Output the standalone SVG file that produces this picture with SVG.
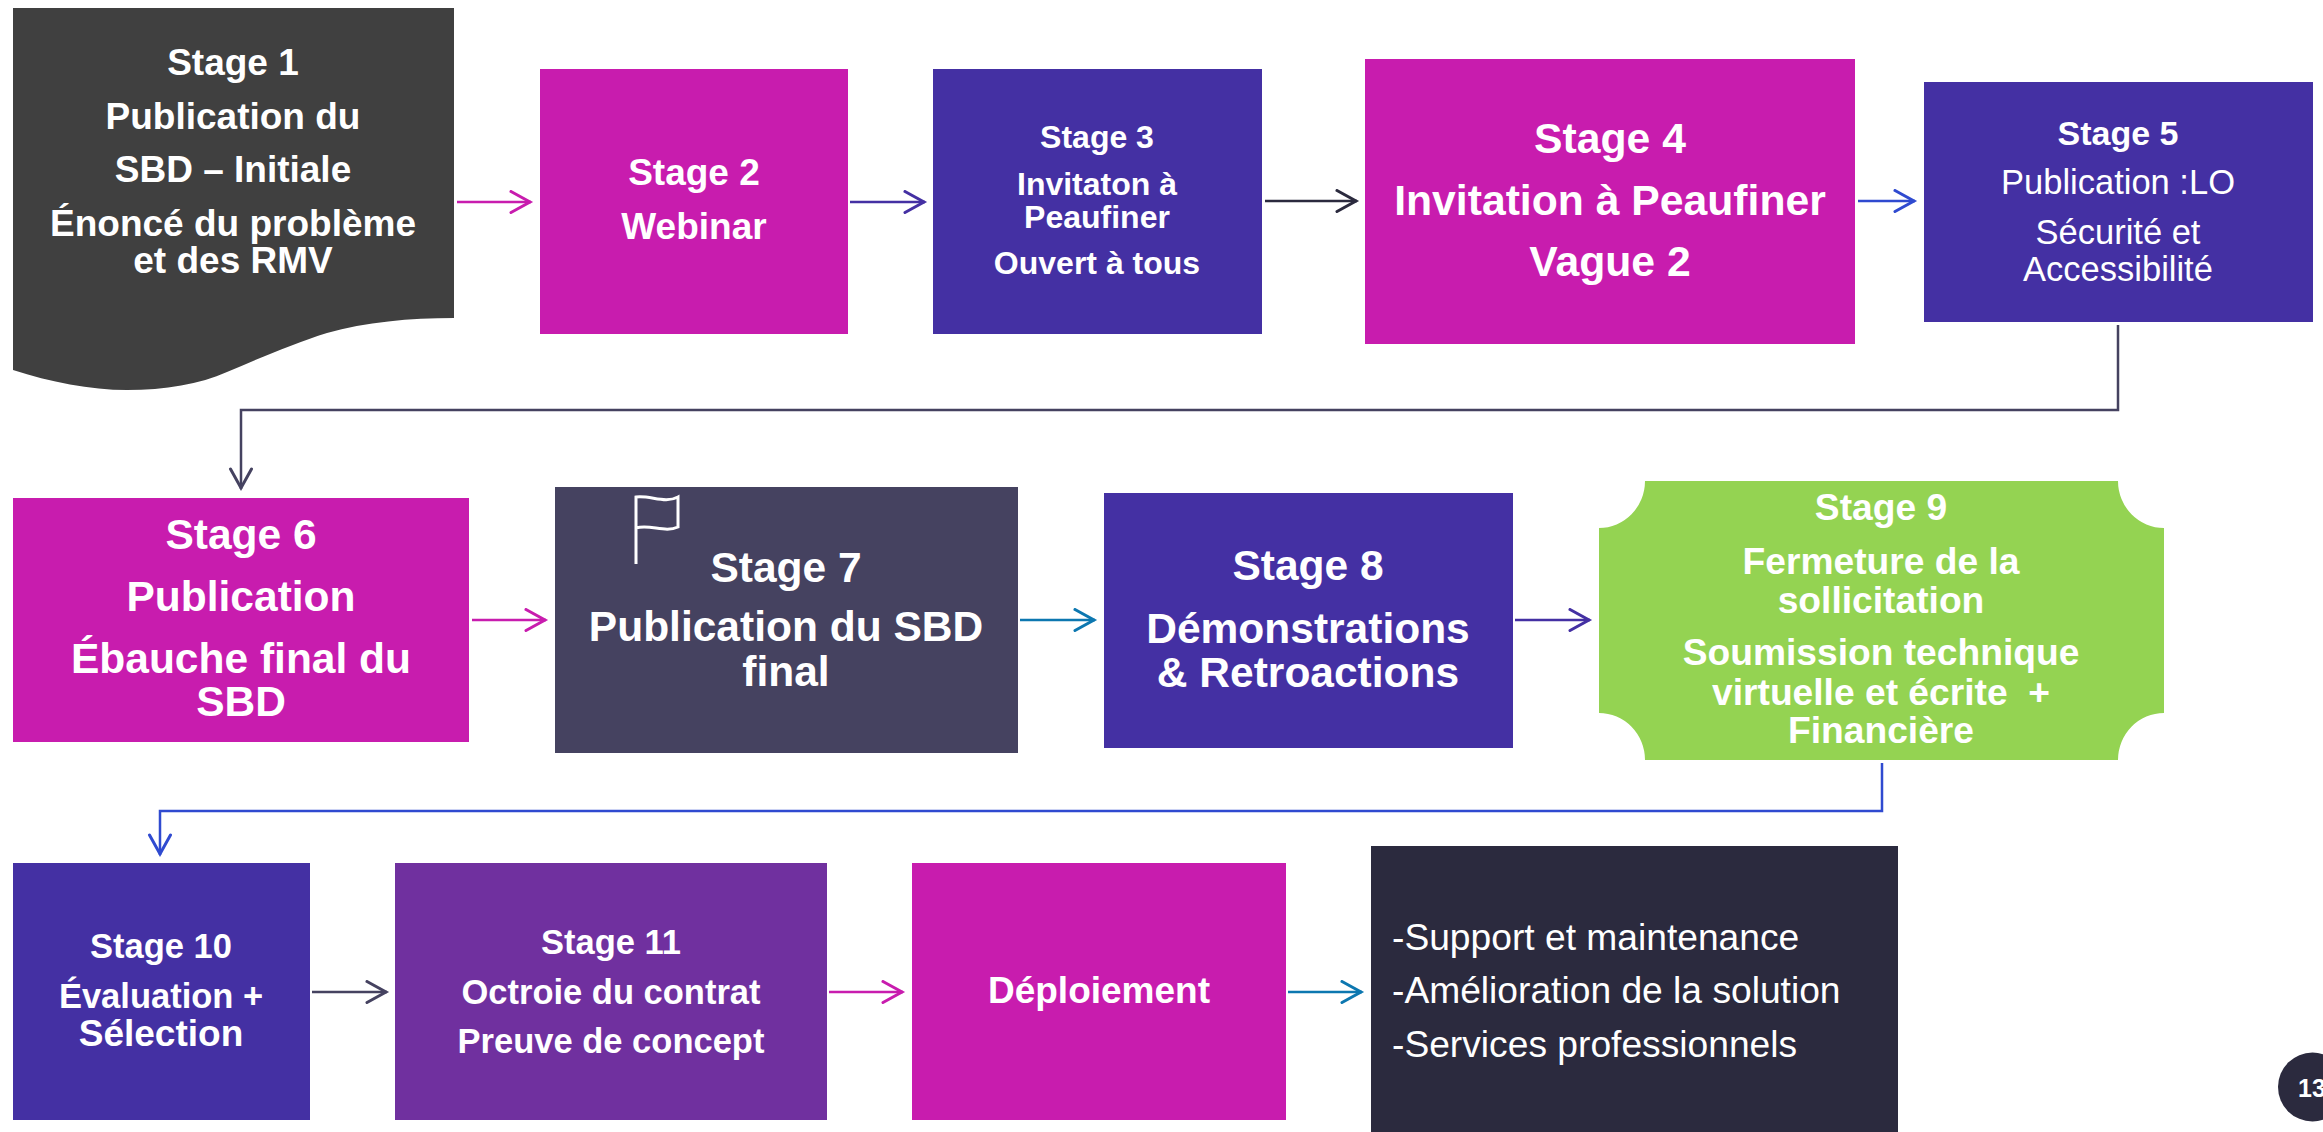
<svg xmlns="http://www.w3.org/2000/svg" width="2323" height="1132" viewBox="0 0 2323 1132">
<style>
text{font-family:"Liberation Sans",Arial,sans-serif;fill:#fff;text-anchor:middle}
.b{font-weight:700}
.l{text-anchor:start}
.c{fill:none;stroke-width:2.5}
.m{fill:#C81CAE}.p{fill:#4430A3}
.hd{fill:none;stroke-width:3;stroke-linecap:round;stroke-linejoin:miter}
</style>
<defs>
<marker id="aM" markerUnits="userSpaceOnUse" markerWidth="30" markerHeight="30" refX="24" refY="12" orient="auto"><path class="hd" stroke="#C81CAE" d="M4,1.500L23,12L4,22.500"/></marker>
<marker id="aP" markerUnits="userSpaceOnUse" markerWidth="30" markerHeight="30" refX="24" refY="12" orient="auto"><path class="hd" stroke="#4430A3" d="M4,1.500L23,12L4,22.500"/></marker>
<marker id="aD" markerUnits="userSpaceOnUse" markerWidth="30" markerHeight="30" refX="24" refY="12" orient="auto"><path class="hd" stroke="#2B2A3E" d="M4,1.500L23,12L4,22.500"/></marker>
<marker id="aB" markerUnits="userSpaceOnUse" markerWidth="30" markerHeight="30" refX="24" refY="12" orient="auto"><path class="hd" stroke="#2F4AD0" d="M4,1.500L23,12L4,22.500"/></marker>
<marker id="aT" markerUnits="userSpaceOnUse" markerWidth="30" markerHeight="30" refX="24" refY="12" orient="auto"><path class="hd" stroke="#0C77B0" d="M4,1.500L23,12L4,22.500"/></marker>
<marker id="aS" markerUnits="userSpaceOnUse" markerWidth="30" markerHeight="30" refX="24" refY="12" orient="auto"><path class="hd" stroke="#454260" d="M4,1.500L23,12L4,22.500"/></marker>
</defs>
<rect width="2323" height="1132" fill="#fff"/>
<g id="connectors">
<path class="c" stroke="#C81CAE" marker-end="url(#aM)" d="M457,202H531"/>
<path class="c" stroke="#4430A3" marker-end="url(#aP)" d="M850,202H925"/>
<path class="c" stroke="#2B2A3E" marker-end="url(#aD)" d="M1265,201H1357"/>
<path class="c" stroke="#2F4AD0" marker-end="url(#aB)" d="M1858,201H1915"/>
<path class="c" stroke="#454260" marker-end="url(#aS)" d="M2118,325V410H241V489"/>
<path class="c" stroke="#C81CAE" marker-end="url(#aM)" d="M472,620H546"/>
<path class="c" stroke="#0C77B0" marker-end="url(#aT)" d="M1020,620H1095"/>
<path class="c" stroke="#4430A3" marker-end="url(#aP)" d="M1515,620H1590"/>
<path class="c" stroke="#2F4AD0" marker-end="url(#aB)" d="M1882,763V811H160V855"/>
<path class="c" stroke="#454260" marker-end="url(#aS)" d="M312,992H387"/>
<path class="c" stroke="#C81CAE" marker-end="url(#aM)" d="M829,992H903"/>
<path class="c" stroke="#0C77B0" marker-end="url(#aT)" d="M1288,992H1362"/>
</g>
<g id="stage1">
<path fill="#404040" d="M13,8H454V318C410,318 365,322 327,333C295,343 260,358 227,372C200,384 165,390 127,390C90,390 50,382 13,370Z"/>
<g class="b" font-size="37">
<text x="233" y="75">Stage 1</text><text x="233" y="129">Publication du</text><text x="233" y="182">SBD – Initiale</text><text x="233" y="236">Énoncé du problème</text><text x="233" y="273">et des RMV</text>
</g></g>
<g id="stage2"><rect class="m" x="540" y="69" width="308" height="265"/>
<g class="b" font-size="37"><text x="694" y="185">Stage 2</text><text x="694" y="239">Webinar</text></g></g>
<g id="stage3"><rect class="p" x="933" y="69" width="329" height="265"/>
<g class="b" font-size="32"><text x="1097" y="148">Stage 3</text><text x="1097" y="195">Invitaton à</text><text x="1097" y="228">Peaufiner</text><text x="1097" y="274">Ouvert à tous</text></g></g>
<g id="stage4"><rect class="m" x="1365" y="59" width="490" height="285"/>
<g class="b" font-size="42.700"><text x="1610" y="153">Stage 4</text><text x="1610" y="215">Invitation à Peaufiner</text><text x="1610" y="276">Vague 2</text></g></g>
<g id="stage5"><rect class="p" x="1924" y="82" width="389" height="240"/>
<text class="b" x="2118" y="145" font-size="34">Stage 5</text>
<g font-size="34.500"><text x="2118" y="194">Publication :LO</text><text x="2118" y="244">Sécurité et</text><text x="2118" y="281">Accessibilité</text></g></g>
<g id="stage6"><rect class="m" x="13" y="498" width="456" height="244"/>
<g class="b" font-size="42.500"><text x="241" y="549">Stage 6</text><text x="241" y="611">Publication</text><text x="241" y="673">Ébauche final du</text><text x="241" y="716">SBD</text></g></g>
<g id="stage7"><rect fill="#454260" x="555" y="487" width="463" height="266"/>
<path fill="none" stroke="#fff" stroke-width="3" d="M636,564V497C650,495 665,504 678,497V527C665,533 650,524 636,528"/>
<g class="b" font-size="42.500"><text x="786" y="582">Stage 7</text><text x="786" y="641">Publication du SBD</text><text x="786" y="686">final</text></g></g>
<g id="stage8"><rect class="p" x="1104" y="493" width="409" height="255"/>
<g class="b" font-size="42.500"><text x="1308" y="580">Stage 8</text><text x="1308" y="643">Démonstrations</text><text x="1308" y="687">&amp; Retroactions</text></g></g>
<g id="stage9"><path fill="#94D352" d="M1645,481H2118A46,47 0 0 0 2164,528V713A46,47 0 0 0 2118,760H1645A46,47 0 0 0 1599,713V528A46,47 0 0 0 1645,481Z"/>
<g class="b" font-size="37.200"><text x="1881" y="520">Stage 9</text><text x="1881" y="574">Fermeture de la</text><text x="1881" y="613">sollicitation</text><text x="1881" y="665">Soumission technique</text><text x="1881" y="705" xml:space="preserve">virtuelle et écrite  +</text><text x="1881" y="743">Financière</text></g></g>
<g id="stage10"><rect class="p" x="13" y="863" width="297" height="257"/>
<g class="b" font-size="34.500"><text x="161" y="958">Stage 10</text><text x="161" y="1008">Évaluation +</text><text x="161" y="1046" font-size="37">Sélection</text></g></g>
<g id="stage11"><rect fill="#70309F" x="395" y="863" width="432" height="257"/>
<g class="b" font-size="34.500"><text x="611" y="954">Stage 11</text><text x="611" y="1004">Octroie du contrat</text><text x="611" y="1053">Preuve de concept</text></g></g>
<g id="deploiement"><rect class="m" x="912" y="863" width="374" height="257"/>
<text class="b" x="1099" y="1003" font-size="37">Déploiement</text></g>
<g id="services"><rect fill="#2B2A3E" x="1371" y="846" width="527" height="286"/>
<g font-size="37.200"><text class="l" x="1392" y="950">-Support et maintenance</text><text class="l" x="1392" y="1003">-Amélioration de la solution</text><text class="l" x="1392" y="1057">-Services professionnels</text></g></g>
<g id="page"><circle fill="#2B2A3E" cx="2312.500" cy="1087" r="34.500"/>
<text class="b l" x="2298" y="1097" font-size="25">13</text></g>
</svg>
